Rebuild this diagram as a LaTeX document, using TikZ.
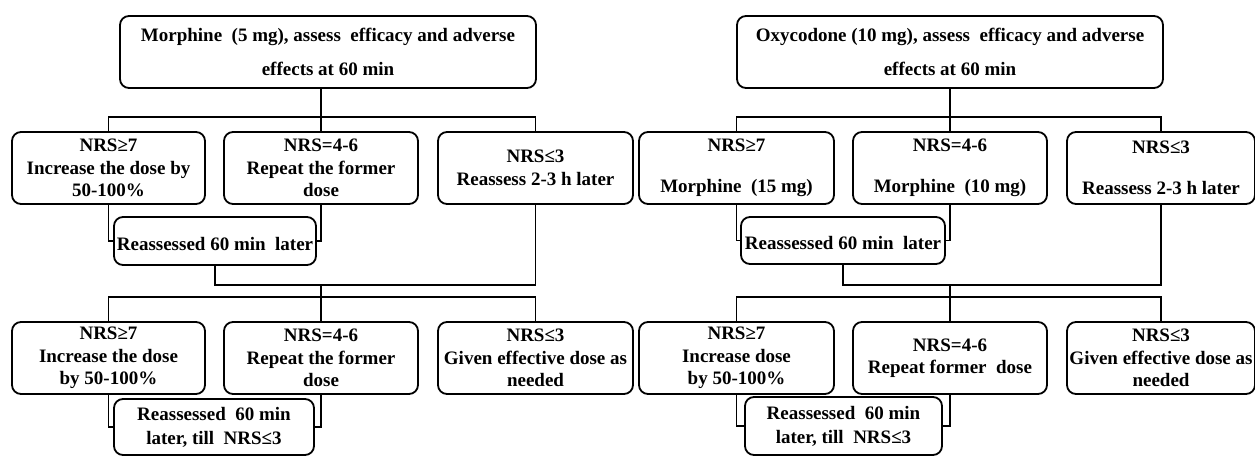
\documentclass[tikz,border=0pt]{standalone}
\usepackage{fontspec}
\setmainfont{Liberation Serif}
\begin{document}
\begin{tikzpicture}[x=1pt,y=-1pt,
  bx/.style={draw, line width=1.8pt, rounded corners=9pt, inner sep=1pt, align=center,
    font=\fontsize{19}{22.5}\selectfont\bfseries, minimum height=72pt,
    execute at begin node={\rule{0pt}{19pt}}},
  ln/.style={line width=1.7pt}]
\useasboundingbox (0,0) rectangle (1255,456);
% ---------- left tree ----------
\node[bx, minimum width=416pt] (T1) at (328,52) {Morphine\ \ (5 mg), assess\ \ efficacy and adverse\\[11pt]effects at 60 min};
\node[bx, minimum width=193pt] (A1) at (108.5,168) {NRS≥7\\Increase the dose by\\50-100\%};
\node[bx, minimum width=194pt] (A2) at (321,168) {NRS=4-6\\Repeat the former\\dose};
\node[bx, minimum width=195pt] (A3) at (535.5,168) {NRS≤3\\Reassess 2-3 h later};
\node[bx, minimum width=202pt, minimum height=48pt] (R1) at (215,241) {Reassessed 60 min\ \ later};
\node[bx, minimum width=193pt] (B1) at (108.5,358) {NRS≥7\\Increase the dose\\by 50-100\%};
\node[bx, minimum width=194pt] (B2) at (321,358) {NRS=4-6\\Repeat the former\\dose};
\node[bx, minimum width=195pt] (B3) at (535.5,358) {NRS≤3\\Given effective dose as\\needed};
\node[bx, minimum width=200pt, minimum height=56pt] (R2) at (214,427) {Reassessed\ \ 60 min\\[1.5pt]later, till\ \ NRS≤3};
% ---------- right tree ----------
\node[bx, minimum width=426pt] (T2) at (950,52) {Oxycodone (10 mg), assess\ \ efficacy and adverse\\[11pt]effects at 60 min};
\node[bx, minimum width=195pt] (C1) at (736.5,168) {NRS≥7\\[19pt]Morphine\ \ (15 mg)};
\node[bx, minimum width=194pt] (C2) at (950,168) {NRS=4-6\\[19pt]Morphine\ \ (10 mg)};
\node[bx, minimum width=188pt] (C3) at (1161,168) {NRS≤3\\[19pt]Reassess 2-3 h later};
\node[bx, minimum width=204pt, minimum height=47pt] (R3) at (843,240.5) {Reassessed 60 min\ \ later};
\node[bx, minimum width=195pt] (D1) at (736.5,358) {NRS≥7\\Increase dose\\by 50-100\%};
\node[bx, minimum width=194pt] (D2) at (950,358) {NRS=4-6\\Repeat former\ \ dose};
\node[bx, minimum width=188pt] (D3) at (1161,358) {NRS≤3\\Given effective dose as\\needed};
\node[bx, minimum width=197pt, minimum height=58pt] (R4) at (843.5,426) {Reassessed\ \ 60 min\\[1.5pt]later, till\ \ NRS≤3};
% ---------- junction coordinates ----------
\coordinate (h1) at (321,117);
\coordinate (j1) at (321,285);
\coordinate (k1) at (321,297);
\coordinate (h2) at (950,117);
\coordinate (j2) at (950,285);
\coordinate (k2) at (950,297);
% ---------- left connectors ----------
\draw[ln] (T1.south -| A2.north) -- (A2.north);
\draw[ln] (A1.north) |- (h1) -| (A3.north);
\draw[ln] (A1.south) |- (R1.west);
\draw[ln] (A2.south) |- (R1.east);
\draw[ln] (R1.south) |- (j1) -| (A3.south);
\draw[ln] (j1) -- (B2.north);
\draw[ln] (B1.north) |- (k1) -| (B3.north);
\draw[ln] (B1.south) |- (R2.west);
\draw[ln] (B2.south) |- (R2.east);
% ---------- right connectors ----------
\draw[ln] (T2.south) -- (C2.north);
\draw[ln] (C1.north) |- (h2) -| (C3.north);
\draw[ln] (C1.south) |- (R3.west);
\draw[ln] (C2.south) |- (R3.east);
\draw[ln] (R3.south) |- (j2) -| (C3.south);
\draw[ln] (j2) -- (D2.north);
\draw[ln] (D1.north) |- (k2) -| (D3.north);
\draw[ln] (D1.south) |- (R4.west);
\draw[ln] (D2.south) |- (R4.east);
\end{tikzpicture}
\end{document}
